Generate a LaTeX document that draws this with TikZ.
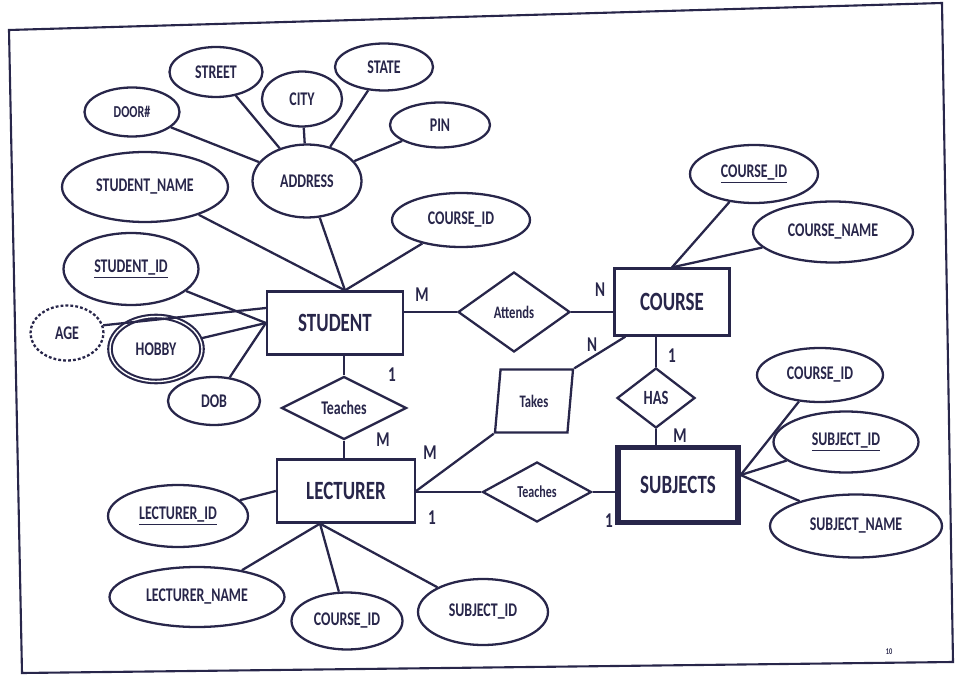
\documentclass[tikz,border=0pt]{standalone}
\usepackage{fontspec}
\setmainfont{Carlito}[FakeStretch=0.72]
\usetikzlibrary{shapes.geometric, positioning, calc}
\definecolor{InkNavy}{RGB}{40, 38, 74}

\tikzset{
  dims/.style 2 args={minimum width=#1cm, minimum height=#2cm},
  entity/.style={draw=InkNavy, line width=1.3pt, rectangle, inner sep=0pt, text=InkNavy, font=\bfseries\fontsize{15}{17}\selectfont},
  attr/.style={draw=InkNavy, line width=1.3pt, ellipse, inner sep=0pt, text=InkNavy, font=\bfseries\fontsize{11}{13}\selectfont},
  rel/.style={draw=InkNavy, line width=1.3pt, diamond, inner sep=0pt, text=InkNavy, font=\bfseries\fontsize{10}{12}\selectfont},
  card/.style={text=InkNavy, inner sep=0pt, font=\bfseries\fontsize{12}{14}\selectfont},
  link/.style={draw=InkNavy, line width=1.3pt}
}

\begin{document}
\begin{tikzpicture}[x=0.02cm, y=-0.02cm]
  \useasboundingbox (0,0) rectangle (960,675);
  \draw[InkNavy, line width=1.2pt] (9,30) -- (942,3) -- (953,662) -- (22,673) -- cycle;

  % entities
  \node[entity, dims={2.72}{1.26}] (student) at (335,323) {STUDENT};
  \node[entity, dims={2.3}{1.34}] (course) at (672,302) {COURSE};
  \node[entity, dims={2.76}{1.26}] (lecturer) at (346,491) {LECTURER};
  \node[entity, line width=3pt, dims={2.4}{1.5}] (subjects) at (678,485) {SUBJECTS};

  % relationships
  \node[rel, dims={2.24}{1.6}] (attends) at (514,312) {Attends};
  \node[rel, font=\bfseries\fontsize{11}{13}\selectfont, dims={2.5}{1.26}] (teachesA) at (344,408) {Teaches};
  \node[rel, font=\bfseries\fontsize{9.5}{11}\selectfont, dims={2.18}{1.2}] (teachesB) at (537,492) {Teaches};
  \node[rel, font=\bfseries\fontsize{11.5}{13}\selectfont, dims={1.56}{1.2}] (has) at (656,398) {HAS};
  \node[rel, trapezium, trapezium left angle=66, trapezium right angle=114,
        trapezium stretches body, dims={1.56}{1.26}] (takes) at (534,401) {Takes};

  % student attributes
  \node[attr, dims={1.86}{1.0}] (street) at (216,72) {STREET};
  \node[attr, dims={1.6}{1.1}] (city) at (302,99) {CITY};
  \node[attr, dims={1.96}{0.94}] (state) at (384,67) {STATE};
  \node[attr, font=\bfseries\fontsize{9.5}{11}\selectfont, dims={1.9}{0.98}] (door) at (132,112) {DOOR\#};
  \node[attr, dims={2.0}{0.9}] (pin) at (440,125) {PIN};
  \node[attr, dims={2.18}{1.46}] (address) at (307,181) {ADDRESS};
  \node[attr, dims={3.32}{1.4}] (stuname) at (145,187) {STUDENT\_NAME};
  \node[attr, dims={2.76}{1.08}] (stucourse) at (461,220) {COURSE\_ID};
  \node[attr, dims={2.7}{1.44}] (stuid) at (131,269) {\underline{STUDENT\_ID}};
  \node[attr, dash pattern=on 1.6pt off 1.2pt, dims={1.46}{1.1}] (age) at (67,333) {AGE};
  \node[attr, double=white, double distance=0.8pt, line width=1.2pt, dims={1.84}{1.3}] (hobby) at (156,349) {HOBBY};
  \node[attr, dims={1.84}{0.96}] (dob) at (214,401) {DOB};

  % course attributes
  \node[attr, dims={2.56}{1.16}] (courseid) at (754,174) {\underline{COURSE\_ID}};
  \node[attr, dims={3.2}{1.22}] (coursename) at (833,232) {COURSE\_NAME};

  % lecturer attributes
  \node[attr, dims={2.8}{1.24}] (lecid) at (178,516) {\underline{LECTURER\_ID}};
  \node[attr, dims={3.5}{1.2}] (lecname) at (197,597) {LECTURER\_NAME};
  \node[attr, dims={2.22}{1.14}] (leccourse) at (347,621) {COURSE\_ID};
  \node[attr, dims={2.6}{1.32}] (lecsubject) at (483,612) {SUBJECT\_ID};

  % subjects attributes
  \node[attr, dims={2.52}{1.08}] (subcourse) at (820,375) {COURSE\_ID};
  \node[attr, dims={2.9}{1.22}] (subid) at (846,442) {\underline{SUBJECT\_ID}};
  \node[attr, dims={3.44}{1.26}] (subname) at (856,526) {SUBJECT\_NAME};

  % meeting points
  \coordinate (stutop) at ([xshift=0.2cm]student.north);
  \coordinate (stuleft) at ([yshift=0.3cm]student.west);
  \coordinate (lecbot) at ([xshift=-0.52cm]lecturer.south);
  \coordinate (subright) at ([yshift=0.2cm]subjects.east);

  % address parts
  \foreach \part in {door, street, city, state, pin}
    \draw[link] (\part) -- (address);

  % attributes to entities
  \foreach \a in {stuname, address, stucourse}
    \draw[link] (\a) -- (stutop);
  \foreach \a in {stuid, hobby, dob}
    \draw[link] (\a) -- (student.west);
  \draw[link] (age.12) -- (stuleft);
  \foreach \a in {courseid, coursename}
    \draw[link] (\a) -- (course.north);
  \draw[link] (lecid) -- (lecturer.west);
  \foreach \a in {lecname, leccourse, lecsubject}
    \draw[link] (\a) -- (lecbot);
  \foreach \a in {subcourse, subid, subname}
    \draw[link] (\a) -- (subright);

  % relationship lines
  \draw[link] (attends.west) -- (attends.west -| student.east);
  \draw[link] (attends.east) -- (attends.east -| course.west);
  \draw[link] (teachesA.north) -- (teachesA.north |- student.south);
  \draw[link] (teachesA.south) -- (teachesA.south |- lecturer.north);
  \draw[link] (teachesB.west) -- (teachesB.west -| lecturer.east);
  \draw[link] (teachesB.east) -- (teachesB.east -| subjects.west);
  \draw[link] (has.north) -- (has.north |- course.south);
  \draw[link] (has.south) -- (has.south |- subjects.north);
  \draw[link] (takes.top right corner) -- ([xshift=0.24cm]course.south west);
  \draw[link] (takes.bottom left corner) -- (lecturer.east);

  % cardinalities
  \node[card] (cardA) at (422,295) {M};
  \node[card] (cardB) at (600,290) {N};
  \node[card] (cardC) at (592,345) {N};
  \node[card] (cardD) at (392,375) {1};
  \node[card] (cardE) at (383,440) {M};
  \node[card] (cardF) at (430,453) {M};
  \node[card] (cardG) at (432,518) {1};
  \node[card] (cardH) at (609,521) {1};
  \node[card] (cardI) at (672,356) {1};
  \node[card] (cardJ) at (680,436) {M};

  \node[text=InkNavy, font=\bfseries\fontsize{5}{6}\selectfont] (pagemark) at (889,652) {10};
\end{tikzpicture}
\end{document}
